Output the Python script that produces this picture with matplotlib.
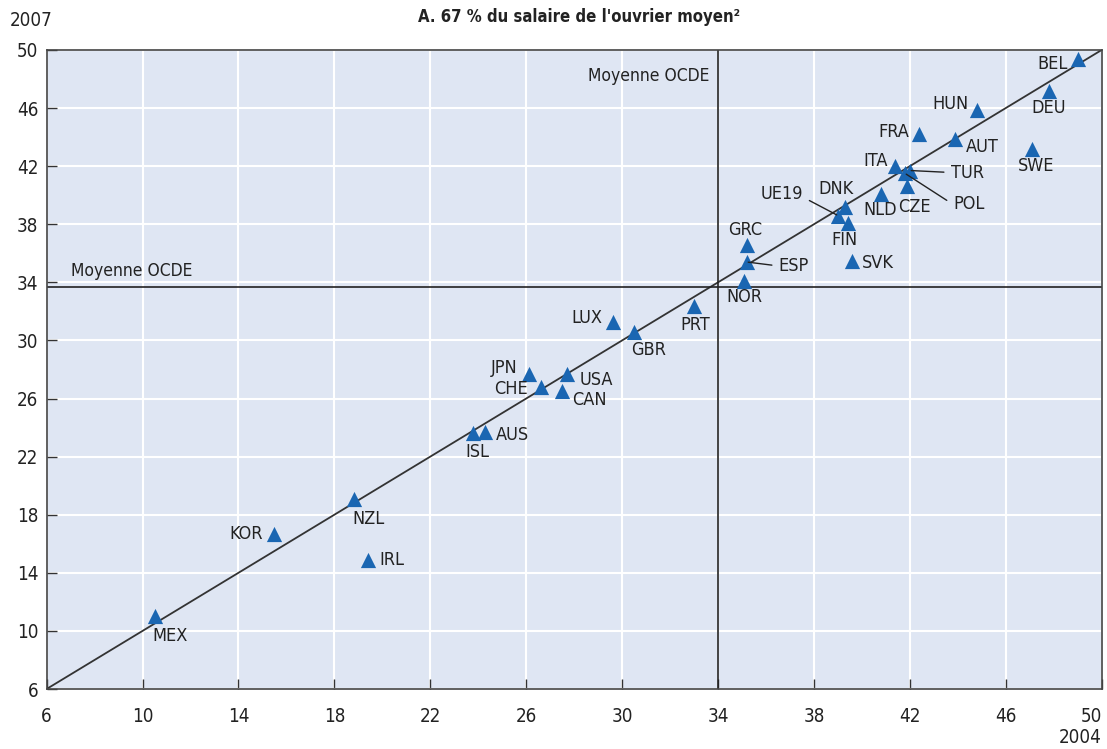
import matplotlib
matplotlib.use("Agg")
import matplotlib.pyplot as plt

plt.rcParams['font.family'] = ['DejaVu Sans']
plt.rcParams['font.stretch'] = 'condensed'

countries = ["BEL", "DEU", "HUN", "FRA", "AUT", "SWE", "ITA", "TUR", "POL", "CZE",
             "NLD", "DNK", "UE19", "FIN", "GRC", "ESP", "NOR", "SVK", "PRT", "LUX",
             "GBR", "JPN", "USA", "CHE", "CAN", "AUS", "ISL", "NZL", "KOR", "IRL", "MEX"]
x2004 = [49.0, 47.8, 44.8, 42.4, 43.9, 47.1, 41.4, 42.0, 41.8, 41.9,
         40.8, 39.3, 39.0, 39.4, 35.2, 35.2, 35.1, 39.6, 33.0, 29.6,
         30.5, 26.1, 27.7, 26.6, 27.5, 24.3, 23.8, 18.8, 15.5, 19.4, 10.5]
y2007 = [49.4, 47.2, 45.9, 44.2, 43.9, 43.2, 42.0, 41.7, 41.5, 40.6,
         40.1, 39.2, 38.6, 38.1, 36.6, 35.4, 34.1, 35.5, 32.4, 31.3,
         30.6, 27.7, 27.7, 26.8, 26.5, 23.7, 23.6, 19.1, 16.7, 14.9, 11.0]
mean_2004 = 34.0
mean_2007 = 33.7
ticks = [6, 10, 14, 18, 22, 26, 30, 34, 38, 42, 46, 50]

# label placement: (dx px, dy px image-down, ha, leader)
label_pos = {
    "BEL": (-10, 5, "right", False), "DEU": (0, 17, "center", False),
    "HUN": (-8, -6, "right", False), "FRA": (-10, -2, "right", False),
    "AUT": (10, 8, "left", False), "SWE": (4, 17, "center", False),
    "ITA": (-8, -5, "right", False), "TUR": (41, 2, "left", True),
    "POL": (48, 31, "left", True), "CZE": (7, 21, "center", False),
    "NLD": (-1, 16, "center", False), "DNK": (-9, -18, "center", False),
    "UE19": (-35, -22, "right", True), "FIN": (-3, 17, "center", False),
    "GRC": (-2, -15, "center", False), "ESP": (32, 4, "left", True),
    "NOR": (0, 16, "center", False), "SVK": (10, 2, "left", False),
    "PRT": (1, 19, "center", False), "LUX": (-10, -4, "right", False),
    "GBR": (-3, 18, "left", False), "JPN": (-11, -6, "right", False),
    "USA": (13, 6, "left", False), "CHE": (-13, 2, "right", False),
    "CAN": (10, 9, "left", False), "AUS": (10, 3, "left", False),
    "ISL": (4, 19, "center", False), "NZL": (-1, 20, "left", False),
    "KOR": (-12, 0, "right", False), "IRL": (11, 0, "left", False),
    "MEX": (-2, 20, "left", False),
}

fig = plt.figure(figsize=(11.07, 7.49), dpi=100)
ax = fig.add_axes([0.0421, 0.0801, 0.9531, 0.8532])
ax.set_facecolor("#dfe6f3")
ax.set_xlim(6, 50)
ax.set_ylim(6, 50)
ax.set_xticks(ticks)
ax.set_yticks(ticks)
ax.grid(True, color="white", lw=1.5)
ax.set_axisbelow(True)
for s in ax.spines.values():
    s.set_color("#444444")
    s.set_linewidth(1.2)
ax.tick_params(axis="both", direction="in", length=7, width=1, color="#333333",
               labelsize=13.5, labelcolor="#222222")
ax.tick_params(axis="x", pad=13)
ax.tick_params(axis="y", pad=6)
xl = ax.get_xticklabels()
xl[-1].set_horizontalalignment("right")

ax.plot([6, 50], [6, 50], color="#333333", lw=1.3, zorder=2)
ax.axvline(mean_2004, color="#222222", lw=1.2, zorder=2)
ax.axhline(mean_2007, color="#222222", lw=1.2, zorder=2)

ax.scatter(x2004, y2007, marker="^", s=120, color="#1a66b2", zorder=3, linewidths=0)

for c, xv, yv in zip(countries, x2004, y2007):
    dx, dy, ha, leader = label_pos[c]
    kw = {}
    if leader:
        rel = (0, 0.5) if ha == "left" else (1, 0.3)
        kw["arrowprops"] = dict(arrowstyle="-", lw=1.0, color="#222222",
                                shrinkA=3, shrinkB=1, relpos=rel)
    ax.annotate(c, xy=(xv, yv), xytext=(dx, -dy), textcoords="offset pixels",
                ha=ha, va="center", fontsize=13, color="#222222", zorder=4, **kw)

ax.text(7.0, mean_2007 + 0.45, "Moyenne OCDE", fontsize=12.5, color="#222222",
        ha="left", va="bottom")
ax.text(mean_2004 - 0.35, 47.6, "Moyenne OCDE", fontsize=12.5, color="#222222",
        ha="right", va="bottom")

fig.text(0.5235, 0.977, "A. 67 % du salaire de l'ouvrier moyen²", ha="center",
         va="center", fontsize=12, fontweight="bold", color="#222222")
fig.text(0.009, 0.972, "2007", ha="left", va="center", fontsize=13.5, color="#222222")
fig.text(0.995, 0.016, "2004", ha="right", va="center", fontsize=13.5, color="#222222")

fig.savefig("out.png", dpi=100)
